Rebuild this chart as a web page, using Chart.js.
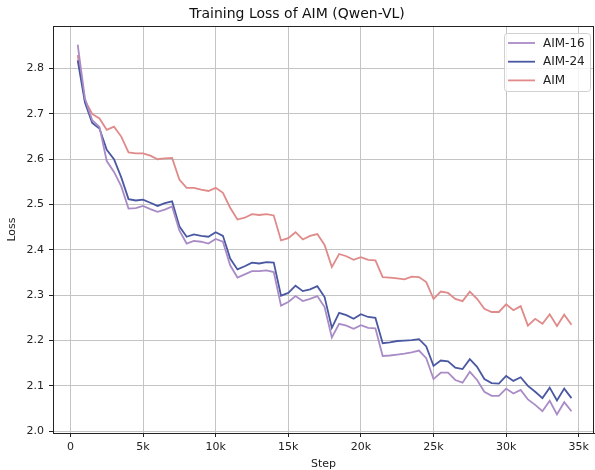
<!DOCTYPE html>
<html>
<head>
<meta charset="utf-8">
<script src="https://cdn.jsdelivr.net/npm/chart.js@4"></script>
<style>
  html, body { margin: 0; padding: 0; background: #fff; }
  #wrap { width: 595px; height: 470px; }
</style>
</head>
<body>
<div id="wrap"><canvas id="c" width="595" height="470"></canvas></div>
<script>
const steps = [500,1000,1500,2000,2500,3000,3500,4000,4500,5000,5500,6000,6500,7000,7500,8000,8500,9000,9500,10000,
  10500,11000,11500,12000,12500,13000,13500,14000,14500,15000,15500,16000,16500,17000,17500,18000,18500,19000,19500,20000,
  20500,21000,21500,22000,22500,23000,23500,24000,24500,25000,25500,26000,26500,27000,27500,28000,28500,29000,29500,30000,
  30500,31000,31500,32000,32500,33000,33500,34000,34500];

const aim16 = [2.853,2.734,2.686,2.671,2.596,2.572,2.540,2.491,2.492,2.497,2.490,2.484,2.489,2.496,2.443,2.414,2.420,2.418,2.414,2.424,
  2.418,2.366,2.339,2.346,2.353,2.353,2.355,2.351,2.277,2.285,2.298,2.287,2.292,2.298,2.274,2.207,2.237,2.233,2.226,2.234,
  2.228,2.227,2.166,2.167,2.169,2.171,2.174,2.178,2.161,2.115,2.129,2.129,2.113,2.107,2.131,2.113,2.087,2.078,2.078,2.094,
  2.083,2.091,2.070,2.058,2.044,2.067,2.037,2.064,2.044];

const aim24 = [2.818,2.725,2.680,2.668,2.621,2.600,2.560,2.512,2.509,2.511,2.504,2.497,2.503,2.507,2.452,2.429,2.434,2.431,2.429,2.439,
  2.431,2.381,2.357,2.364,2.372,2.370,2.373,2.372,2.299,2.305,2.321,2.309,2.313,2.320,2.296,2.228,2.261,2.256,2.248,2.258,
  2.252,2.250,2.194,2.196,2.199,2.200,2.201,2.203,2.187,2.144,2.156,2.154,2.140,2.137,2.159,2.142,2.115,2.106,2.105,2.122,
  2.111,2.119,2.100,2.087,2.073,2.096,2.068,2.094,2.073];

const aim = [2.830,2.730,2.700,2.690,2.665,2.672,2.650,2.615,2.613,2.613,2.608,2.600,2.602,2.603,2.555,2.537,2.537,2.533,2.530,2.537,
  2.526,2.493,2.467,2.471,2.479,2.477,2.479,2.476,2.421,2.426,2.439,2.423,2.431,2.435,2.411,2.362,2.391,2.386,2.378,2.384,
  2.378,2.377,2.340,2.339,2.337,2.335,2.341,2.340,2.329,2.292,2.308,2.305,2.292,2.287,2.308,2.292,2.270,2.263,2.263,2.280,
  2.267,2.276,2.233,2.248,2.237,2.258,2.232,2.257,2.235];

const seriesNames = ['AIM-16', 'AIM-24', 'AIM'];
const xTicks = [0, 5000, 10000, 15000, 20000, 25000, 30000, 35000];
const xTickLabels = ['0', '5k', '10k', '15k', '20k', '25k', '30k', '35k'];
const yTicks = [2.0, 2.1, 2.2, 2.3, 2.4, 2.5, 2.6, 2.7, 2.8];
const yTickLabels = ['2.0', '2.1', '2.2', '2.3', '2.4', '2.5', '2.6', '2.7', '2.8'];

const colors = ['#a98cc6', '#4a58a2', '#e08a8a'];
const FONT = "'DejaVu Sans', sans-serif";

function toPoints(ys) { return steps.map((s, i) => ({ x: s, y: ys[i] })); }

const frameAndLegend = {
  id: 'frameAndLegend',
  afterDraw(chart) {
    const { ctx, chartArea: a } = chart;
    ctx.save();
    ctx.strokeStyle = '#222';
    ctx.lineWidth = 1;
    ctx.strokeRect(Math.round(a.left) + 0.5, Math.round(a.top) + 0.5,
      Math.round(a.right - a.left) - 1, Math.round(a.bottom - a.top));
    // legend
    const bx = 504.5, by = 33.5, bw = 86, bh = 58, r = 3;
    ctx.fillStyle = 'rgba(255,255,255,0.8)';
    ctx.strokeStyle = '#d0d0d0';
    ctx.beginPath();
    ctx.moveTo(bx + r, by);
    ctx.lineTo(bx + bw - r, by); ctx.arcTo(bx + bw, by, bx + bw, by + r, r);
    ctx.lineTo(bx + bw, by + bh - r); ctx.arcTo(bx + bw, by + bh, bx + bw - r, by + bh, r);
    ctx.lineTo(bx + r, by + bh); ctx.arcTo(bx, by + bh, bx, by + bh - r, r);
    ctx.lineTo(bx, by + r); ctx.arcTo(bx, by, bx + r, by, r);
    ctx.closePath();
    ctx.fill(); ctx.stroke();
    ctx.font = '12px ' + FONT;
    ctx.textBaseline = 'middle';
    ctx.textAlign = 'left';
    chart.data.datasets.forEach((ds, i) => {
      const y = 43 + i * 18.7;
      ctx.strokeStyle = ds.borderColor;
      ctx.lineWidth = 1.8;
      ctx.beginPath(); ctx.moveTo(508, y); ctx.lineTo(535, y); ctx.stroke();
      ctx.fillStyle = '#222';
      ctx.fillText(ds.label, 543, y + 0.5);
    });
    ctx.restore();
  }
};

new Chart(document.getElementById('c'), {
  type: 'line',
  data: {
    datasets: [
      { label: seriesNames[0], data: toPoints(aim16), borderColor: colors[0] },
      { label: seriesNames[1], data: toPoints(aim24), borderColor: colors[1] },
      { label: seriesNames[2], data: toPoints(aim), borderColor: colors[2] }
    ].map(d => Object.assign(d, { borderWidth: 1.8, pointRadius: 0, tension: 0, fill: false, backgroundColor: d.borderColor }))
  },
  options: {
    responsive: false,
    animation: false,
    devicePixelRatio: 1,
    layout: { padding: { left: 0, right: 1, top: 0, bottom: 0 } },
    plugins: {
      legend: { display: false },
      tooltip: { enabled: false },
      title: {
        display: true,
        text: 'Training Loss of AIM (Qwen-VL)',
        color: '#111',
        font: { family: FONT, size: 14, weight: 'normal', lineHeight: 1.2 },
        padding: { top: 6, bottom: 3.2 }
      }
    },
    scales: {
      x: {
        type: 'linear',
        min: -1200,
        max: 36050,
        afterFit(scale) { scale.height = 37; },
        afterBuildTicks(scale) { scale.ticks = xTicks.map(v => ({ value: v })); },
        ticks: {
          color: '#222',
          padding: 4,
          maxRotation: 0,
          font: { family: FONT, size: 11 },
          callback: (v) => { const i = xTicks.indexOf(v); return i >= 0 ? xTickLabels[i] : ''; }
        },
        grid: { color: '#c4c4c4', lineWidth: 1, tickLength: 4, tickColor: '#222', drawTicks: true },
        border: { display: true, color: '#222' },
        title: { display: true, text: 'Step', color: '#222', font: { family: FONT, size: 11, lineHeight: 1.0 }, padding: { top: 0, bottom: 0 } }
      },
      y: {
        type: 'linear',
        min: 1.996,
        max: 2.894,
        afterFit(scale) { scale.width = 53; },
        afterBuildTicks(scale) { scale.ticks = yTicks.map(v => ({ value: v })); },
        ticks: {
          color: '#222',
          padding: 5,
          font: { family: FONT, size: 11 },
          callback: (v) => { const i = yTicks.findIndex(t => Math.abs(t - v) < 1e-9); return i >= 0 ? yTickLabels[i] : ''; }
        },
        grid: { color: '#c4c4c4', lineWidth: 1, tickLength: 4, tickColor: '#222', drawTicks: true },
        border: { display: true, color: '#222' },
        title: { display: true, text: 'Loss', color: '#222', font: { family: FONT, size: 11 }, padding: { top: 6, bottom: 0 } }
      }
    }
  },
  plugins: [frameAndLegend]
});
</script>
</body>
</html>
